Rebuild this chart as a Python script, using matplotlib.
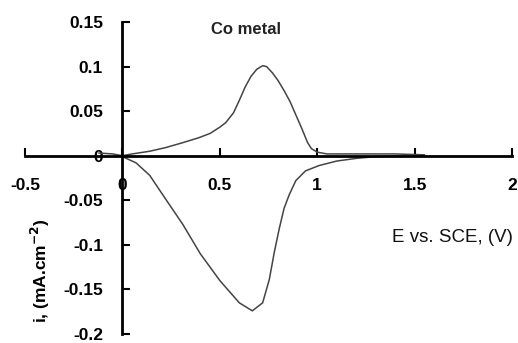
import matplotlib
matplotlib.use("Agg")
import matplotlib.pyplot as plt

# Anodic (forward) scan
E_fwd = [-0.12, -0.05, 0.0, 0.05, 0.14, 0.22, 0.30, 0.39, 0.45, 0.50, 0.53, 0.57, 0.60, 0.63, 0.66, 0.69, 0.72, 0.74, 0.77,
         0.80, 0.83, 0.86, 0.89, 0.92, 0.95, 0.97, 1.00, 1.05, 1.2, 1.4, 1.55]
i_fwd = [0.003, 0.002, 0.0, 0.002, 0.005, 0.009, 0.014, 0.020, 0.025, 0.032, 0.037, 0.048, 0.062, 0.077, 0.089, 0.097, 0.101, 0.100, 0.093,
         0.084, 0.073, 0.061, 0.046, 0.031, 0.015, 0.008, 0.004, 0.002, 0.002, 0.002, 0.001]
# Cathodic (reverse) scan
E_rev = [1.55, 1.3, 1.2, 1.10, 1.01, 0.94, 0.89, 0.856, 0.83, 0.805, 0.78, 0.754, 0.72, 0.667, 0.60, 0.50, 0.40, 0.31, 0.22,
         0.14, 0.07, 0.01]
i_rev = [0.0, -0.001, -0.003, -0.006, -0.011, -0.017, -0.028, -0.044, -0.059, -0.082, -0.108, -0.139, -0.165, -0.174, -0.165, -0.140, -0.110, -0.077, -0.048,
         -0.022, -0.008, -0.002]

xticks = [-0.5, 0, 0.5, 1, 1.5, 2]
xticklabels = ["-0.5", "0", "0.5", "1", "1.5", "2"]
yticks = [-0.2, -0.15, -0.1, -0.05, 0, 0.05, 0.1, 0.15]
yticklabels = ["-0.2", "-0.15", "-0.1", "-0.05", "0", "0.05", "0.1", "0.15"]

plt.rcParams['font.family'] = ['Liberation Sans', 'DejaVu Sans']

fig = plt.figure(figsize=(5.18, 3.43), dpi=100)
ax = fig.add_axes([25/518, 9/343, (512-25)/518, (334-22)/343])

ax.plot(E_fwd, i_fwd, color='#444444', lw=1.1)
ax.plot(E_rev, i_rev, color='#444444', lw=1.1)

ax.set_xlim(-0.5, 2.0)
ax.set_ylim(-0.2, 0.15)

for s in ['top', 'right']:
    ax.spines[s].set_visible(False)
ax.spines['left'].set_position(('data', 0))
ax.spines['bottom'].set_position(('data', 0))
ax.spines['left'].set_linewidth(2)
ax.spines['bottom'].set_linewidth(2)

ax.set_xticks(xticks)
ax.set_xticklabels(xticklabels)
ax.set_yticks(yticks)
ax.set_yticklabels(yticklabels)
ax.tick_params(axis='x', direction='in', length=6, width=1.5, pad=16, labelsize=12.5)
ax.tick_params(axis='y', direction='in', length=6, width=1.5, pad=14, labelsize=12.5)
for lab in ax.get_xticklabels() + ax.get_yticklabels():
    lab.set_fontweight('bold')

fig.text(452/518, 1 - 238/343, "E vs. SCE, (V)", fontsize=13.5, ha='center', va='center', color='#111111')
fig.text(246/518, 1 - 30/343, "Co metal", fontsize=12, fontweight='bold', ha='center', va='center', color='#222222')
fig.text(40/518, 1 - 271/343, "i, (mA.cm$^{\\mathbf{-2}}$)", fontsize=12.5, fontweight='bold', rotation=90, ha='center', va='center')

fig.savefig("out.png", dpi=100)
